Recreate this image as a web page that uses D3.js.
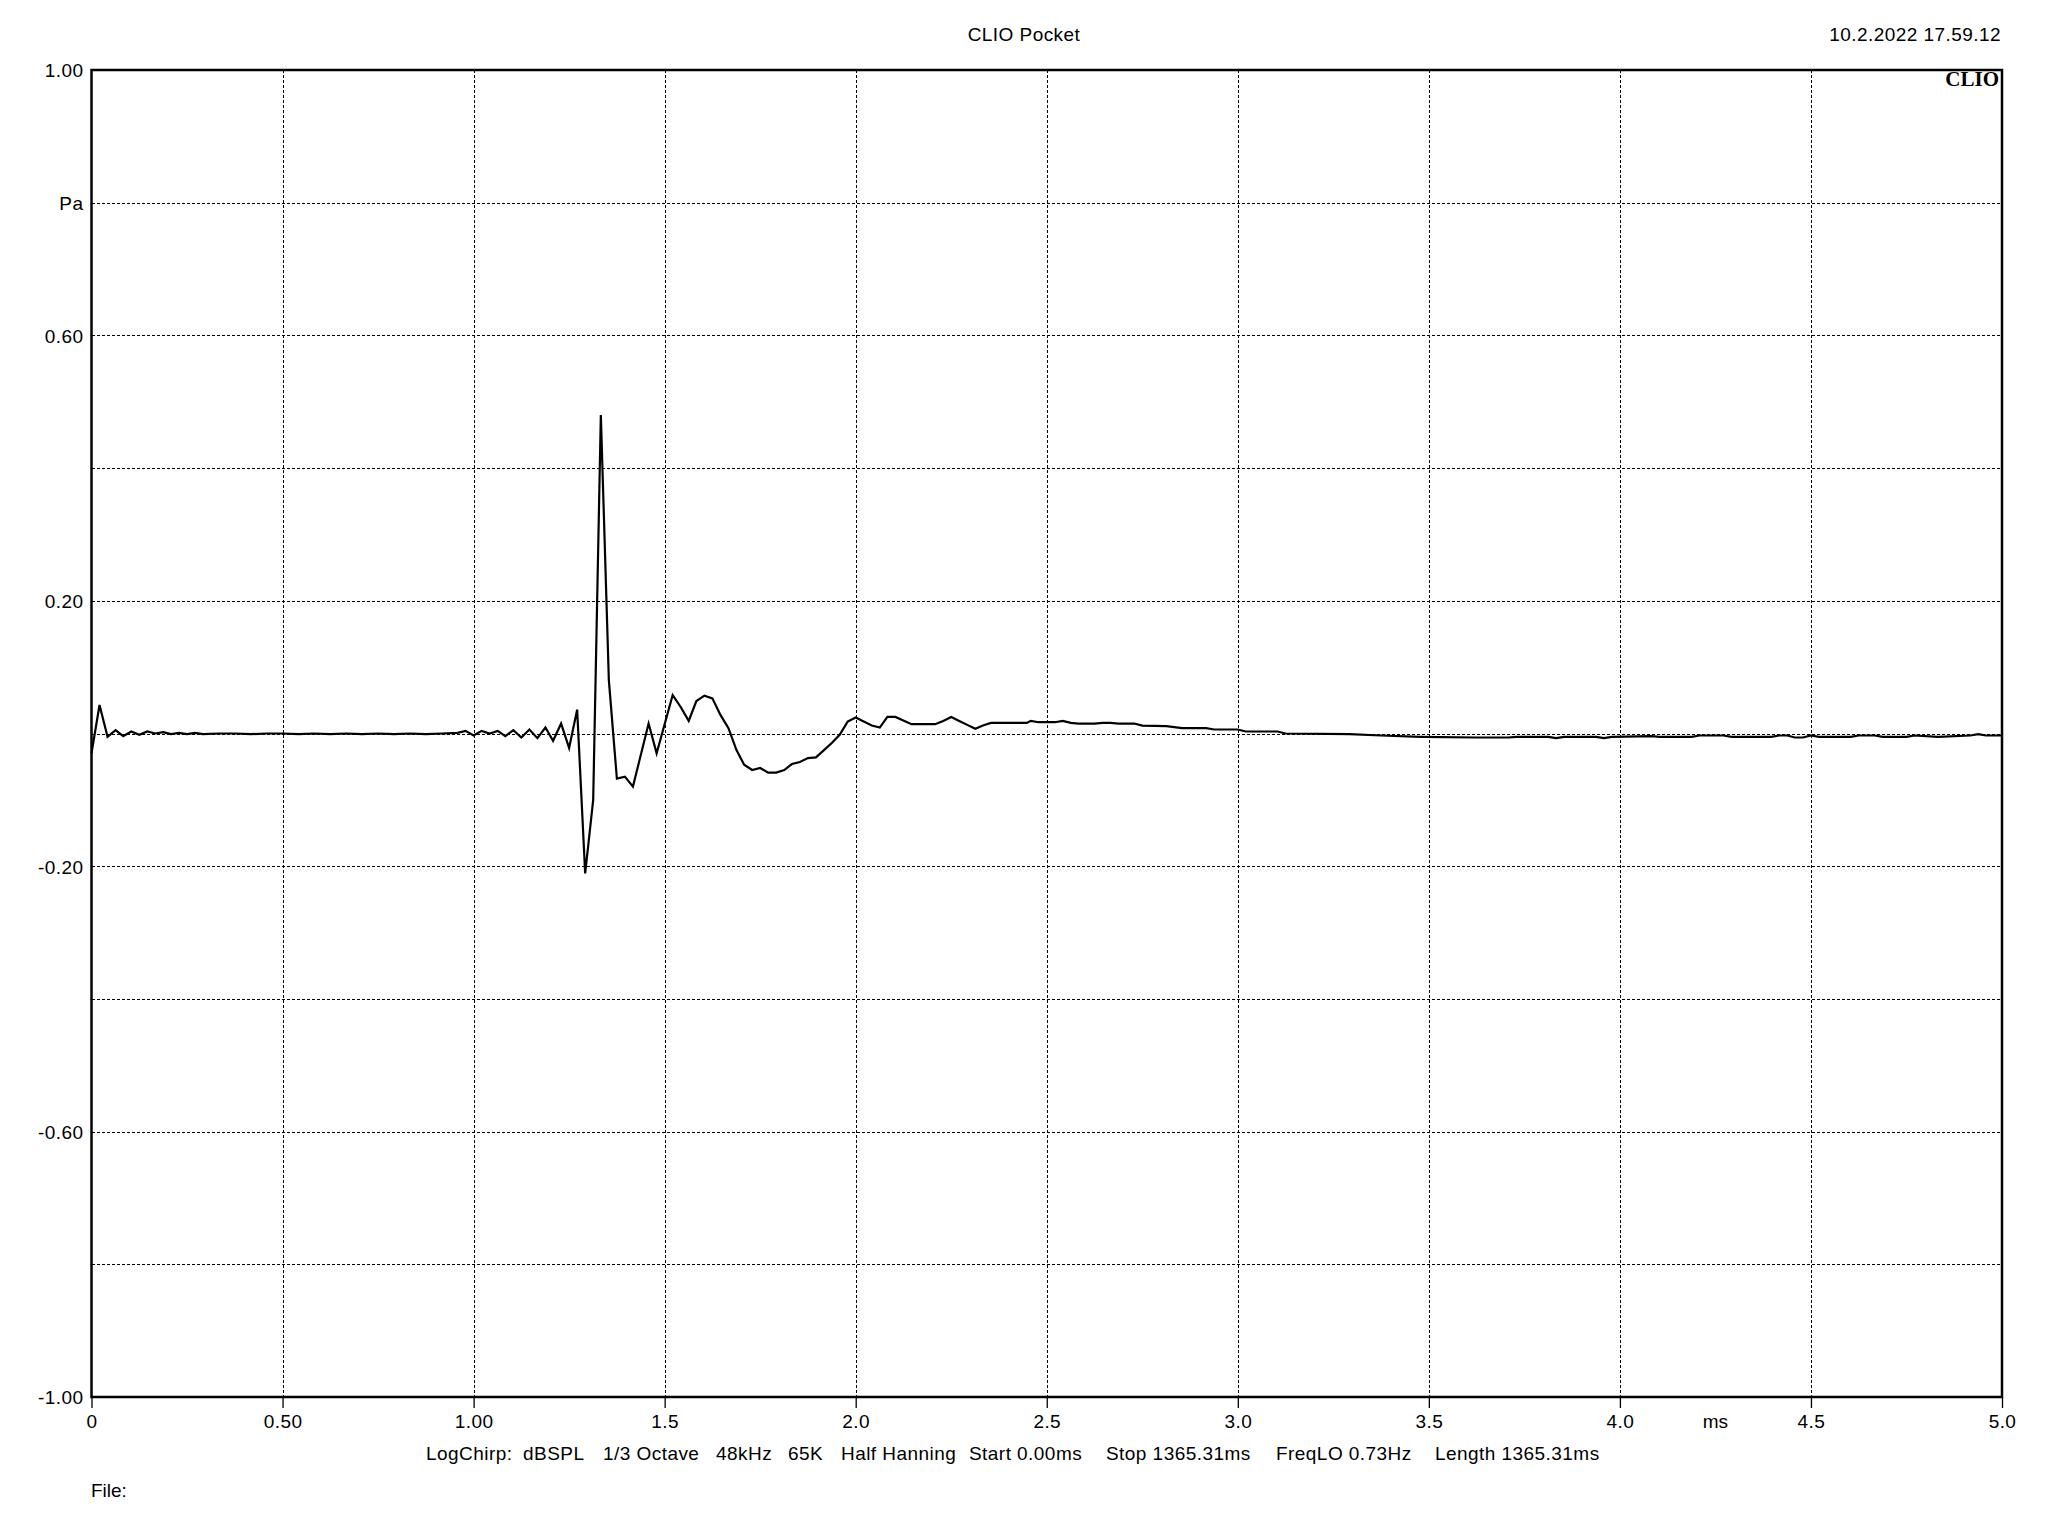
<!DOCTYPE html>
<html>
<head>
<meta charset="utf-8">
<script src="https://cdn.jsdelivr.net/npm/d3@7"></script>
<style>
  html, body { margin: 0; padding: 0; background: #fff; }
  svg text { font-family: "Liberation Sans", Arial, sans-serif; fill: #000; }
</style>
</head>
<body>
<svg id="chart" width="2048" height="1536"></svg>
<script>
// ---- data ----
const timeMs = [
  0.000, 0.021, 0.042, 0.063, 0.083, 0.104, 0.125, 0.146, 0.167, 0.188,
  0.208, 0.229, 0.250, 0.271, 0.292, 0.333, 0.375, 0.417, 0.458, 0.500,
  0.542, 0.583, 0.625, 0.667, 0.708, 0.750, 0.792, 0.833, 0.875, 0.917,
  0.958, 0.979, 1.000, 1.021, 1.042, 1.063, 1.083, 1.104, 1.125, 1.146,
  1.167, 1.188, 1.208, 1.229, 1.250, 1.271, 1.292, 1.313, 1.333, 1.354,
  1.375, 1.396, 1.417, 1.458, 1.479, 1.521, 1.542, 1.563, 1.583, 1.604,
  1.625, 1.646, 1.667, 1.688, 1.708, 1.729, 1.750, 1.771, 1.792, 1.813,
  1.833, 1.854, 1.875, 1.896, 1.917, 1.938, 1.958, 1.979, 2.000, 2.021,
  2.042, 2.063, 2.083, 2.104, 2.146, 2.208, 2.229, 2.250, 2.271, 2.292,
  2.313, 2.333, 2.354, 2.448, 2.458, 2.479, 2.521, 2.542, 2.563, 2.583,
  2.625, 2.646, 2.667, 2.688, 2.729, 2.750, 2.813, 2.854, 2.917, 2.938,
  3.000, 3.021, 3.104, 3.125, 3.292, 3.375, 3.479, 3.625, 3.708, 3.729,
  3.813, 3.833, 3.854, 3.938, 3.958, 3.979, 4.083, 4.104, 4.188, 4.208,
  4.271, 4.292, 4.396, 4.417, 4.438, 4.458, 4.479, 4.500, 4.521, 4.604,
  4.625, 4.667, 4.688, 4.750, 4.771, 4.833, 4.917, 4.938, 4.958, 5.000
];
const pressurePa = [
  -0.030, 0.043, -0.005, 0.005, -0.004, 0.003, -0.002, 0.003, 0.000, 0.002,
  -0.001, 0.001, -0.001, 0.001, -0.001, 0.000, 0.000, -0.001, 0.000, 0.000,
  -0.001, 0.000, -0.001, 0.000, -0.001, 0.000, -0.001, 0.000, -0.001, 0.000,
  0.001, 0.004, -0.003, 0.004, 0.000, 0.004, -0.004, 0.005, -0.006, 0.006,
  -0.007, 0.009, -0.011, 0.015, -0.022, 0.036, -0.211, -0.100, 0.480, 0.080,
  -0.068, -0.065, -0.080, 0.015, -0.030, 0.058, 0.040, 0.019, 0.049, 0.057,
  0.053, 0.028, 0.008, -0.025, -0.047, -0.055, -0.052, -0.059, -0.059, -0.055,
  -0.046, -0.043, -0.037, -0.036, -0.025, -0.014, -0.002, 0.018, 0.024, 0.018,
  0.012, 0.009, 0.025, 0.025, 0.014, 0.014, 0.019, 0.025, 0.019, 0.013,
  0.007, 0.012, 0.016, 0.016, 0.019, 0.017, 0.017, 0.019, 0.016, 0.015,
  0.015, 0.016, 0.016, 0.015, 0.015, 0.012, 0.011, 0.008, 0.008, 0.006,
  0.006, 0.003, 0.003, 0.000, -0.001, -0.003, -0.005, -0.006, -0.006, -0.005,
  -0.005, -0.007, -0.005, -0.005, -0.007, -0.005, -0.004, -0.005, -0.005, -0.003,
  -0.003, -0.005, -0.005, -0.003, -0.003, -0.006, -0.006, -0.003, -0.005, -0.005,
  -0.003, -0.003, -0.005, -0.005, -0.003, -0.005, -0.003, -0.001, -0.003, -0.003
];
const xTickValues = [0, 0.5, 1, 1.5, 2, 2.5, 3, 3.5, 4, 4.5, 5];
const xTickLabels = ["0", "0.50", "1.00", "1.5", "2.0", "2.5", "3.0", "3.5", "4.0", "4.5", "5.0"];
const xUnitLabel = "ms";
const xUnitPos = 4.25;
const yGridValues = [-1, -0.8, -0.6, -0.4, -0.2, 0, 0.2, 0.4, 0.6, 0.8, 1];
const yTickValues = [1, 0.8, 0.6, 0.2, -0.2, -0.6, -1];
const yTickLabels = ["1.00", "Pa", "0.60", "0.20", "-0.20", "-0.60", "-1.00"];
const titleText = "CLIO Pocket";
const dateText = "10.2.2022 17.59.12";
const logoText = "CLIO";
const footerItems = ["LogChirp:", "dBSPL", "1/3 Octave", "48kHz", "65K", "Half Hanning",
  "Start 0.00ms", "Stop 1365.31ms", "FreqLO 0.73Hz", "Length 1365.31ms"];
const footerX = [426, 523, 603, 716, 788, 841, 969, 1106, 1276, 1435];
const fileLabel = "File:";

// ---- layout ----
const L = 91.5, R = 2002, T = 70, B = 1397;
const FS = 19;
const LS = "0.45px";

const svg = d3.select("#chart");
svg.append("rect").attr("width", 2048).attr("height", 1536).attr("fill", "#fff");

const x = d3.scaleLinear().domain([0, 5]).range([L, R]);
const y = d3.scaleLinear().domain([-1, 1]).range([B, T]);

// grid
const grid = svg.append("g").attr("stroke", "#000").attr("stroke-width", 1)
  .attr("stroke-dasharray", "3,2").attr("shape-rendering", "crispEdges");
grid.selectAll("line.v").data(xTickValues.filter(v => v > 0 && v < 5)).join("line")
  .attr("class", "v")
  .attr("x1", d => Math.round(x(d)) + 0.5).attr("x2", d => Math.round(x(d)) + 0.5)
  .attr("y1", T).attr("y2", B);
grid.selectAll("line.h").data(yGridValues.filter(v => v > -1 && v < 1)).join("line")
  .attr("class", "h")
  .attr("y1", d => Math.round(y(d)) + 0.5).attr("y2", d => Math.round(y(d)) + 0.5)
  .attr("x1", L).attr("x2", R);

// x axis
const xAxis = d3.axisBottom(x)
  .tickValues(xTickValues)
  .tickFormat((d, i) => xTickLabels[i])
  .tickSize(11).tickSizeOuter(0);
const gx = svg.append("g").attr("transform", `translate(0,${B})`).call(xAxis);
gx.select(".domain").remove();
gx.selectAll(".tick line").attr("stroke", "#000").attr("stroke-width", 1.3);
gx.selectAll(".tick text")
  .attr("y", 31).attr("dy", 0)
  .style("font-size", FS + "px").style("letter-spacing", LS)
  .attr("fill", "#000");
svg.append("text").attr("x", x(xUnitPos)).attr("y", B + 31)
  .attr("text-anchor", "middle").style("font-size", FS + "px").text(xUnitLabel);

// y axis
const yAxis = d3.axisLeft(y)
  .tickValues(yTickValues)
  .tickFormat((d, i) => yTickLabels[i])
  .tickSize(0).tickPadding(8);
const gy = svg.append("g").attr("transform", `translate(${L},0)`).call(yAxis);
gy.select(".domain").remove();
gy.selectAll(".tick text")
  .attr("dy", "0.36em")
  .style("font-size", FS + "px").style("letter-spacing", LS)
  .attr("fill", "#000");

// frame
svg.append("rect").attr("x", L).attr("y", T).attr("width", R - L).attr("height", B - T)
  .attr("fill", "none").attr("stroke", "#000").attr("stroke-width", 2.5);

// curve
const pts = timeMs.map((t, i) => [t, pressurePa[i]]);
const line = d3.line().x(d => x(d[0])).y(d => y(d[1]));
svg.append("path").datum(pts)
  .attr("d", line)
  .attr("fill", "none").attr("stroke", "#000").attr("stroke-width", 2.2)
  .attr("stroke-linejoin", "miter").attr("stroke-miterlimit", 4);

// titles
svg.append("text").attr("x", 1024).attr("y", 41).attr("text-anchor", "middle")
  .style("font-size", FS + "px").style("letter-spacing", LS).text(titleText);
svg.append("text").attr("x", 2001).attr("y", 41).attr("text-anchor", "end")
  .style("font-size", FS + "px").style("letter-spacing", LS).text(dateText);
svg.append("text").attr("x", 1999).attr("y", 86).attr("text-anchor", "end")
  .style("font-family", "'Liberation Serif', 'Times New Roman', serif")
  .style("font-weight", "bold").style("font-size", "21px").text(logoText);

// footer
svg.append("g").selectAll("text").data(footerItems).join("text")
  .attr("x", (d, i) => footerX[i]).attr("y", 1460)
  .style("font-size", FS + "px").style("letter-spacing", LS)
  .text(d => d);
svg.append("text").attr("x", 91).attr("y", 1497)
  .style("font-size", FS + "px").text(fileLabel);
</script>
</body>
</html>
